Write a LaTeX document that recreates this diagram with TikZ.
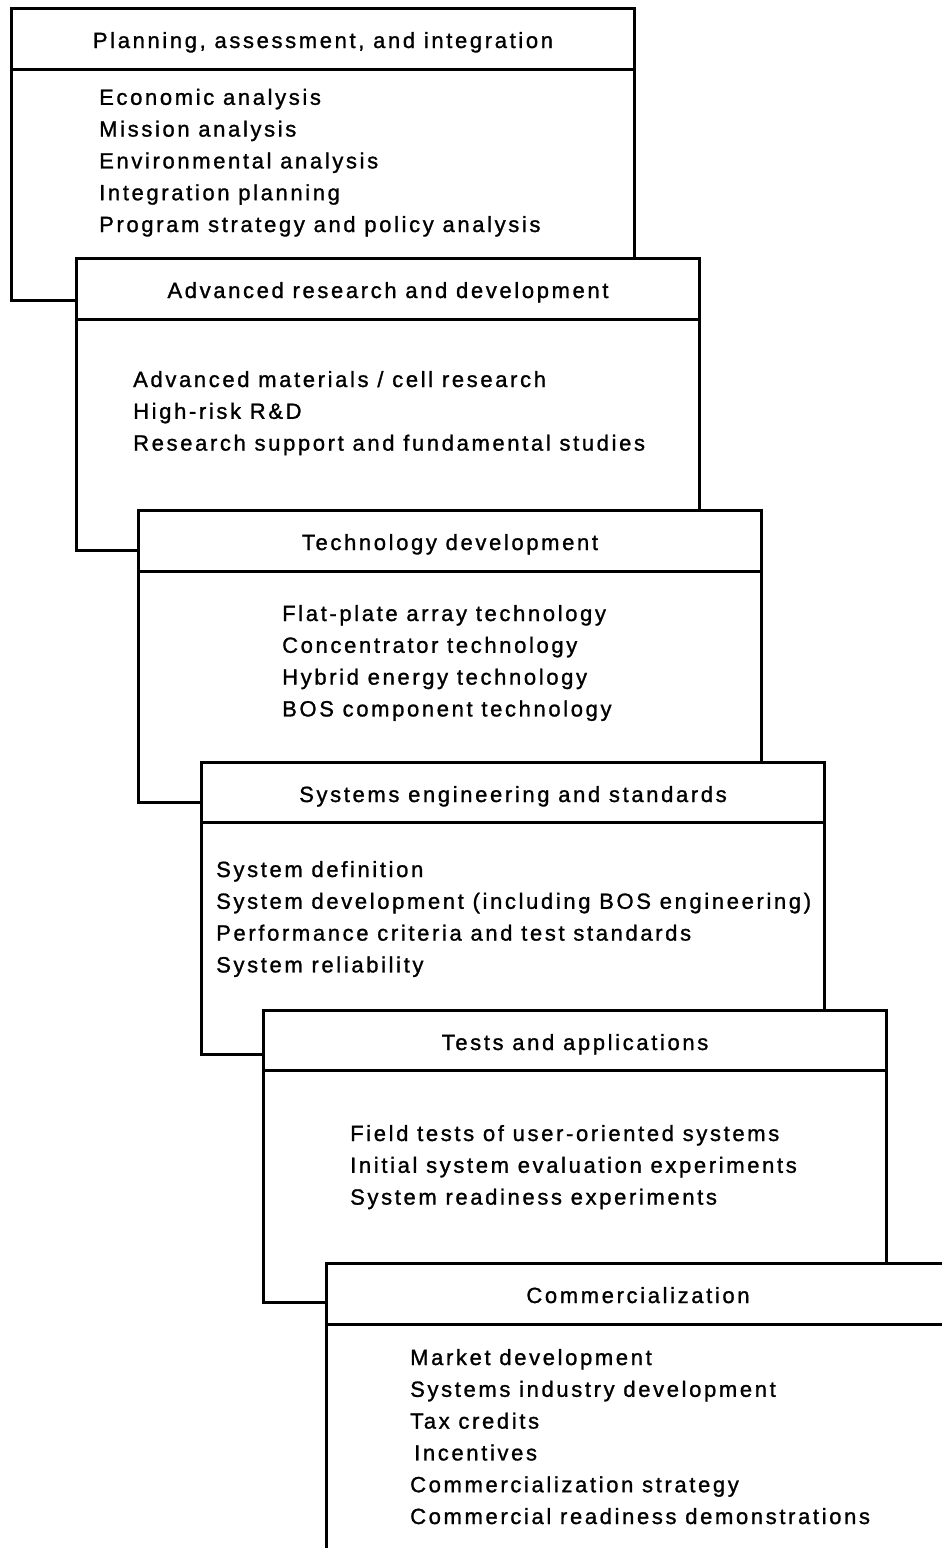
\documentclass[tikz,border=0pt]{standalone}
\usepackage{fontspec}
\setmainfont{Liberation Sans}[LetterSpace=12,FakeBold=1.2]
\newcommand\panelfont{\fontsize{22}{31.8}\selectfont}
\begin{document}
\begin{tikzpicture}[x=1pt,y=-1pt,
  panel/.style={draw, line width=3pt, fill=white, rectangle,
    minimum width=623pt, minimum height=292pt, anchor=north west,
    inner sep=0pt, line join=miter},
  divider/.style={line width=3pt},
  headtext/.style={anchor=base, inner sep=0pt, font=\panelfont},
  % anchored at the baseline of the last line
  bodytext/.style={anchor=base west, align=left, inner sep=0pt, font=\panelfont}]
\useasboundingbox (0,0) rectangle (942,1548);
\clip (0,0) rectangle (942,1548);

% Panel 1
\node[panel] (p1) at (10,7) {};
\node[headtext] (h1) at ([yshift=-41pt]p1.north) {Planning, assessment, and integration};
\draw[divider] ([yshift=-62pt]p1.north west) -- ([yshift=-62pt]p1.north east);
\node[bodytext] (t1) at ([xshift=89pt,yshift=-225pt]p1.north west)
  {Economic analysis\\Mission analysis\\Environmental analysis\\Integration planning\\Program strategy and policy analysis};

% Panel 2
\node[panel] (p2) at (75,257) {};
\node[headtext] (h2) at ([yshift=-41pt]p2.north) {Advanced research and development};
\draw[divider] ([yshift=-62pt]p2.north west) -- ([yshift=-62pt]p2.north east);
\node[bodytext] (t2) at ([xshift=58pt,yshift=-193.6pt]p2.north west)
  {Advanced materials / cell research\\High-risk R\&D\\Research support and fundamental studies};

% Panel 3
\node[panel] (p3) at (137,509) {};
\node[headtext] (h3) at ([yshift=-41pt]p3.north) {Technology development};
\draw[divider] ([yshift=-62pt]p3.north west) -- ([yshift=-62pt]p3.north east);
\node[bodytext] (t3) at ([xshift=145pt,yshift=-207.4pt]p3.north west)
  {Flat-plate array technology\\Concentrator technology\\Hybrid energy technology\\BOS component technology};

% Panel 4
\node[panel] (p4) at (200,761) {};
\node[headtext] (h4) at ([yshift=-41pt]p4.north) {Systems engineering and standards};
\draw[divider] ([yshift=-61pt]p4.north west) -- ([yshift=-61pt]p4.north east);
\node[bodytext] (t4) at ([xshift=16pt,yshift=-211.4pt]p4.north west)
  {System definition\\System development (including BOS engineering)\\Performance criteria and test standards\\System reliability};

% Panel 5
\node[panel] (p5) at (262,1009) {};
\node[headtext] (h5) at ([yshift=-41pt]p5.north) {Tests and applications};
\draw[divider] ([yshift=-61pt]p5.north west) -- ([yshift=-61pt]p5.north east);
\node[bodytext] (t5) at ([xshift=88pt,yshift=-195.6pt]p5.north west)
  {Field tests of user-oriented systems\\Initial system evaluation experiments\\System readiness experiments};

% Panel 6
\node[panel] (p6) at (325,1262) {};
\node[headtext] (h6) at ([yshift=-41pt]p6.north) {Commercialization};
\draw[divider] ([yshift=-62pt]p6.north west) -- ([yshift=-62pt]p6.north east);
\node[bodytext] (t6) at ([xshift=85pt,yshift=-262pt]p6.north west)
  {Market development\\Systems industry development\\Tax credits\\\hspace*{4pt}Incentives\\Commercialization strategy\\Commercial readiness demonstrations};
\end{tikzpicture}
\end{document}
